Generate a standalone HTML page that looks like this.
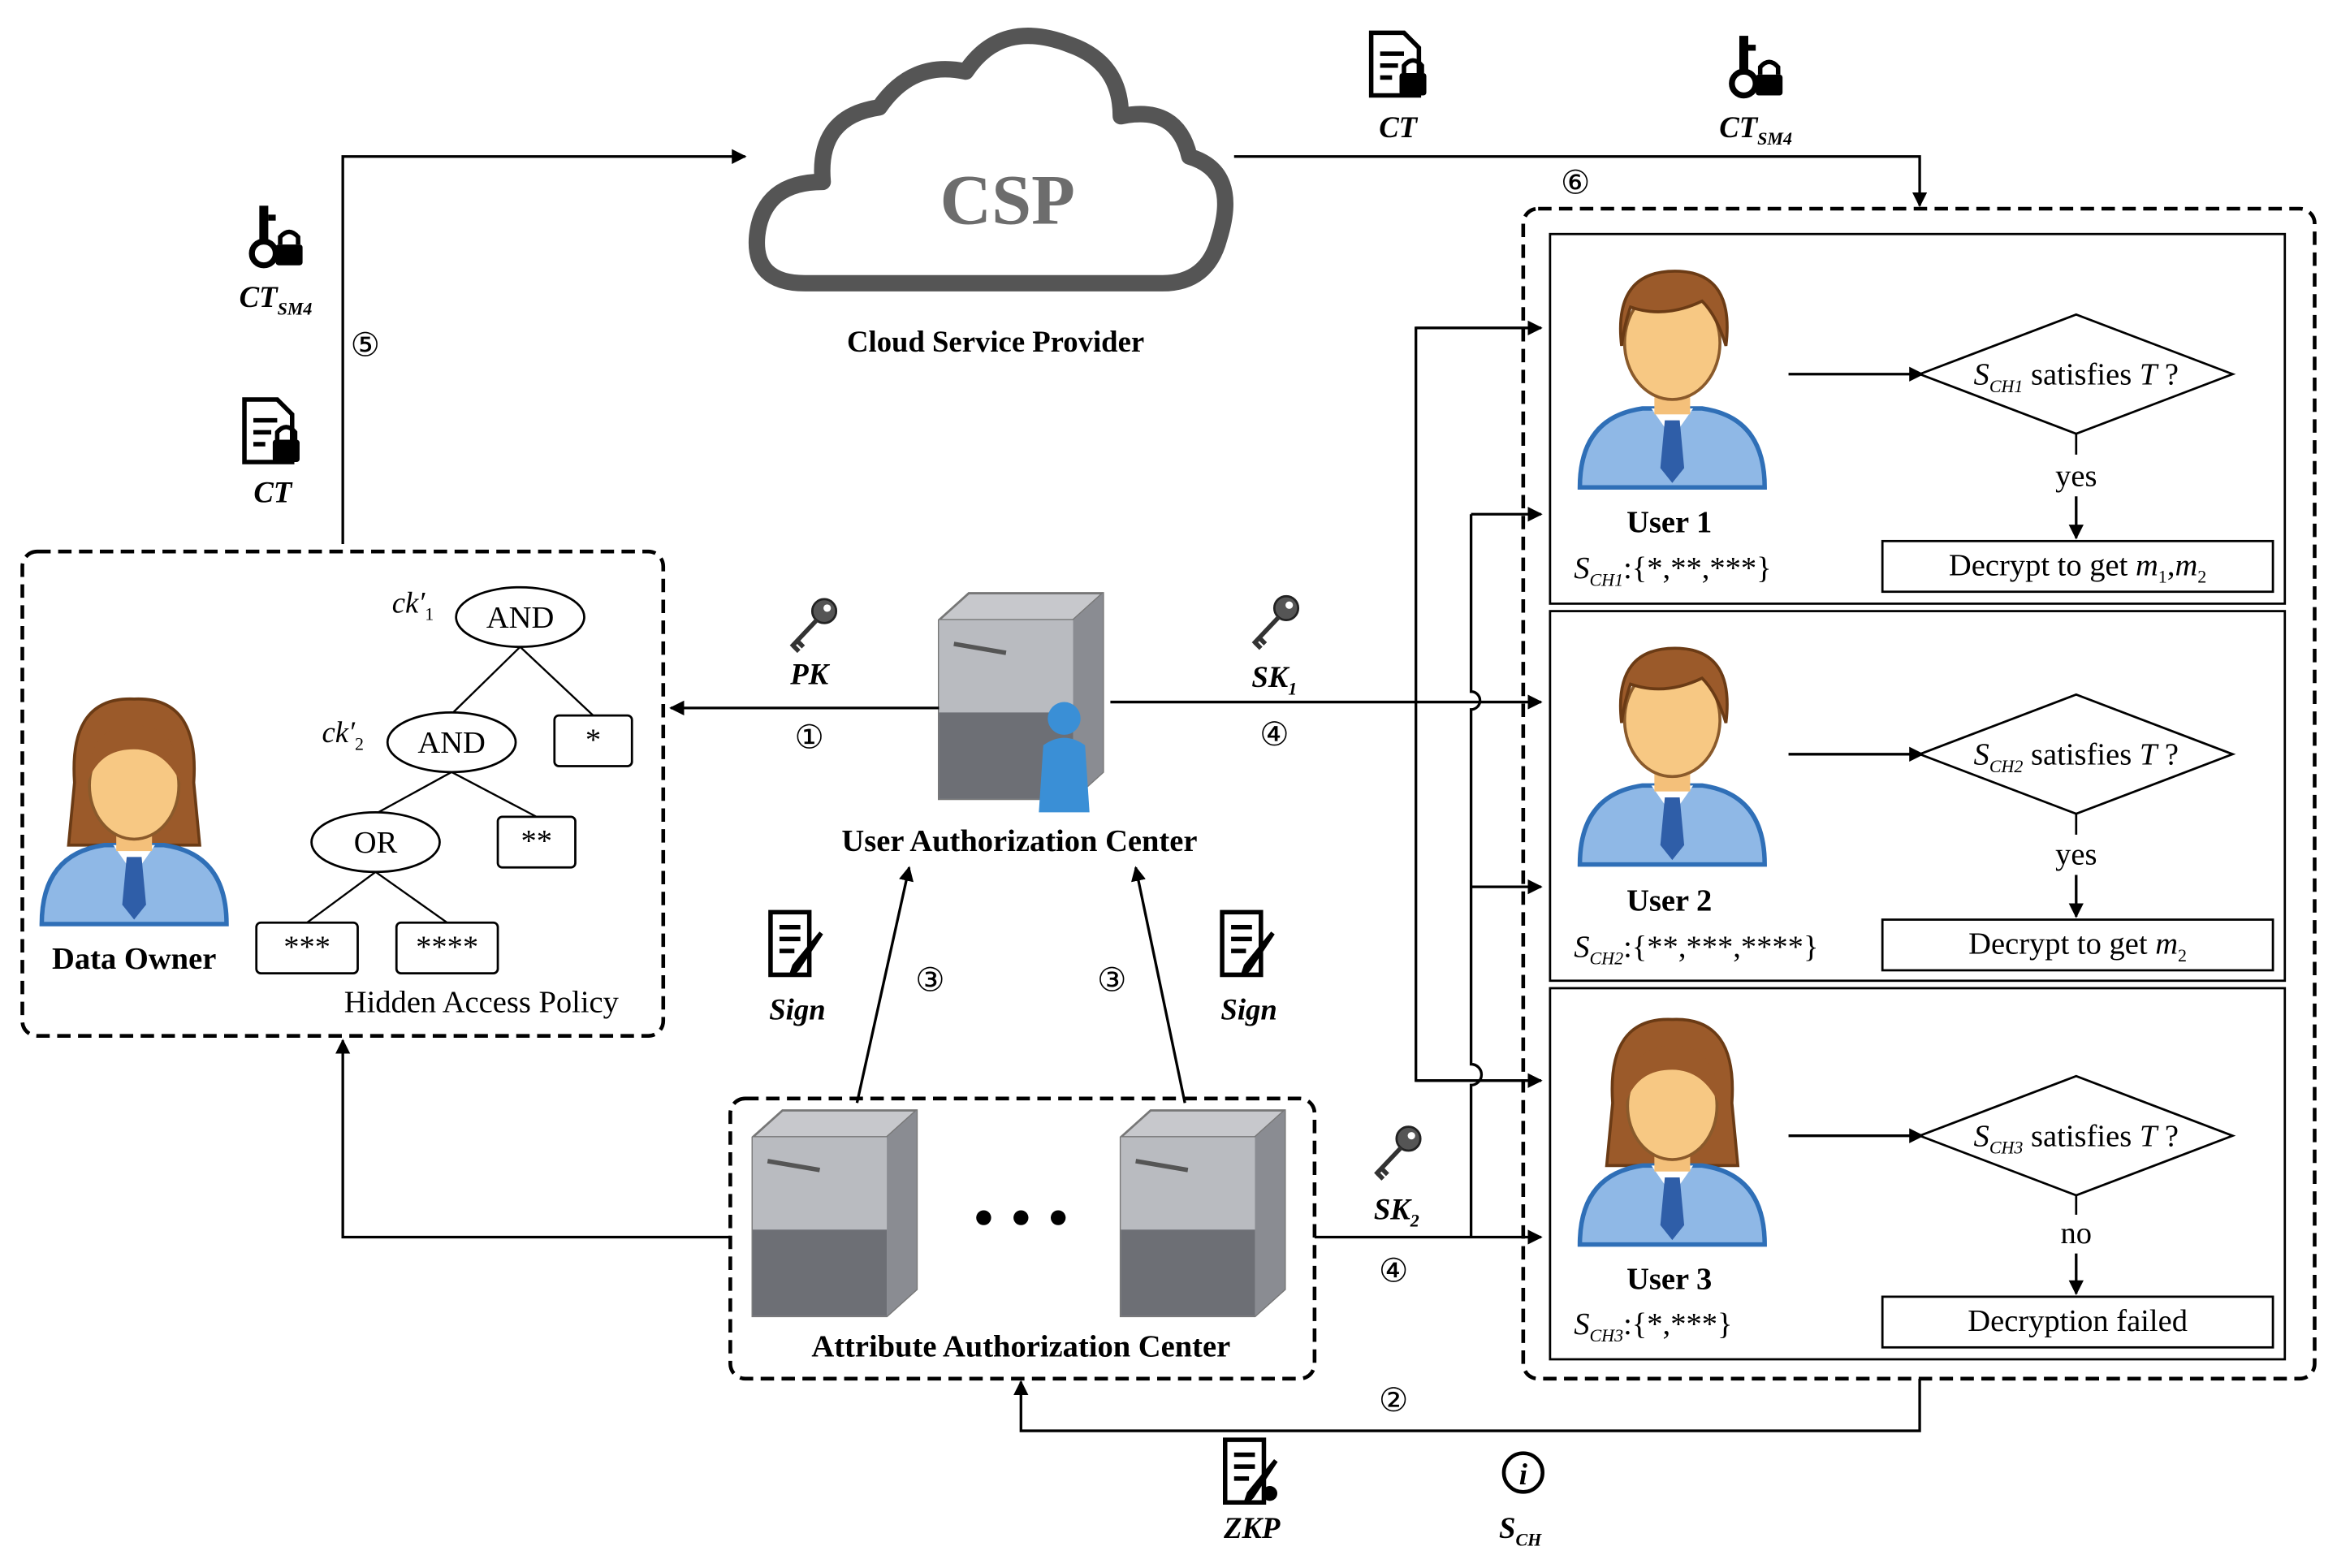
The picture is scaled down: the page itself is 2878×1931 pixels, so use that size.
<!DOCTYPE html>
<html><head><meta charset="utf-8"><style>
html,body{margin:0;padding:0;background:#fff;}
svg{display:block;}
text{font-family:"Liberation Serif",serif;}
</style></head><body>
<svg width="2878" height="1931" viewBox="0 0 1568 1052" xmlns="http://www.w3.org/2000/svg">
<defs>
<marker id="ar" markerWidth="10" markerHeight="10" refX="9" refY="5" orient="auto" markerUnits="userSpaceOnUse">
<path d="M0,0 L10,5 L0,10 Z" fill="#000"/></marker>
<g id="man">
<path d="M-62,75 Q-62,28 -20,22 L20,22 Q62,28 62,75 Z" fill="#8fb8e6" stroke="#2f6fb7" stroke-width="3"/>
<path d="M-14,22 L0,42 L14,22 Z" fill="#fff"/>
<path d="M-5,30 L5,30 L8,62 L0,72 L-8,62 Z" fill="#2f5ea8"/>
<rect x="-12" y="6" width="24" height="20" fill="#f4c07a"/>
<ellipse cx="0" cy="-22" rx="32" ry="38" fill="#f7c883" stroke="#8a5a2b" stroke-width="2"/>
<path d="M-34,-20 Q-40,-72 5,-70 Q42,-68 36,-20 Q30,-40 20,-50 Q-5,-38 -28,-46 Q-32,-35 -34,-20 Z" fill="#9b5a2a" stroke="#6b3b15" stroke-width="2"/>
</g>
<g id="woman">
<path d="M-40,-20 Q-44,-78 0,-76 Q44,-78 40,-20 L44,22 L-44,22 Z" fill="#9b5a2a" stroke="#6b3b15" stroke-width="2"/>
<path d="M-62,75 Q-62,28 -20,22 L20,22 Q62,28 62,75 Z" fill="#8fb8e6" stroke="#2f6fb7" stroke-width="3"/>
<path d="M-14,22 L0,42 L14,22 Z" fill="#fff"/>
<path d="M-5,30 L5,30 L8,62 L0,72 L-8,62 Z" fill="#2f5ea8"/>
<rect x="-12" y="6" width="24" height="20" fill="#f4c07a"/>
<ellipse cx="0" cy="-18" rx="30" ry="36" fill="#f7c883" stroke="#8a5a2b" stroke-width="2"/>
<path d="M-32,-18 Q-30,-60 0,-58 Q30,-60 32,-18 Q20,-45 -5,-42 Q-25,-40 -32,-18 Z" fill="#9b5a2a"/>
</g>
<g id="server">
<path d="M0,18 L20,0 L110,0 L110,120 L90,138 L0,138 Z" fill="#c7c8cc" stroke="#777" stroke-width="1.5"/>
<path d="M0,18 L90,18 L110,0" fill="none" stroke="#777" stroke-width="1.5"/>
<rect x="0" y="18" width="90" height="120" fill="#b9bbc0"/>
<path d="M90,18 L110,0 L110,120 L90,138 Z" fill="#8a8c92"/>
<rect x="0" y="80" width="90" height="58" fill="#6d6f75"/>
<line x1="10" y1="34" x2="45" y2="40" stroke="#555" stroke-width="3"/>
</g>
<g id="doclock">
<path d="M-16,-22 L6,-22 L16,-12 L16,20 L-16,20 Z" fill="#fff" stroke="#000" stroke-width="3"/>
<line x1="-10" y1="-8" x2="6" y2="-8" stroke="#000" stroke-width="3"/>
<line x1="-10" y1="0" x2="2" y2="0" stroke="#000" stroke-width="3"/>
<line x1="-10" y1="8" x2="-2" y2="8" stroke="#000" stroke-width="3"/>
<rect x="3" y="5" width="18" height="15" rx="2" fill="#000"/>
<path d="M6,5 L6,0 Q12,-7 18,0 L18,5" fill="none" stroke="#000" stroke-width="3"/>
</g>
<g id="keylock">
<circle cx="-8" cy="12" r="8" fill="none" stroke="#000" stroke-width="4"/>
<rect x="-11" y="-20" width="6" height="26" fill="#000"/>
<rect x="-5" y="-14" width="5" height="4" fill="#000"/>
<rect x="0" y="6" width="18" height="14" rx="2" fill="#000"/>
<path d="M3,6 L3,1 Q9,-6 15,1 L15,6" fill="none" stroke="#000" stroke-width="3"/>
</g>
<g id="key">
<circle cx="8" cy="-10" r="8" fill="#555" stroke="#222" stroke-width="1.5"/>
<circle cx="10" cy="-12" r="2.5" fill="#fff"/>
<path d="M3,-4 L-14,14 M-10,10 L-6,14 M-13,13 L-9,17" stroke="#333" stroke-width="3" fill="none"/>
</g>
<g id="sign">
<path d="M-16,-22 L10,-22 L10,20 L-16,20 Z" fill="#fff" stroke="#000" stroke-width="3"/>
<line x1="-10" y1="-12" x2="4" y2="-12" stroke="#000" stroke-width="3"/>
<line x1="-10" y1="-4" x2="4" y2="-4" stroke="#000" stroke-width="3"/>
<line x1="-10" y1="4" x2="0" y2="4" stroke="#000" stroke-width="3"/>
<path d="M18,-8 L2,16 L-2,20 L0,14 Z" fill="#000" stroke="#000" stroke-width="3"/>
</g>
</defs>

<!-- Cloud -->
<path d="M540,190 Q505,190 508,158 Q512,122 552,122 Q548,78 590,72 Q612,40 648,48 Q672,12 718,30 Q752,42 752,78 Q790,70 798,105 Q832,115 818,160 Q810,190 780,190 Z" fill="#fff" stroke="#555" stroke-width="11" stroke-linejoin="round"/>
<text x="676" y="150" font-size="48" font-weight="bold" fill="#6d6d6d" text-anchor="middle">CSP</text>
<text x="668" y="236" font-size="20" font-weight="bold" text-anchor="middle">Cloud Service Provider</text>

<!-- lines to CSP -->
<polyline points="230,365 230,105 500,105" fill="none" stroke="#000" stroke-width="1.8" marker-end="url(#ar)"/>
<use href="#keylock" x="185" y="158"/>
<text x="185" y="206" font-size="20" font-weight="bold" font-style="italic" text-anchor="middle">CT<tspan font-size="12" dy="5">SM4</tspan></text>
<text x="245" y="239" font-size="22" text-anchor="middle">⑤</text>
<use href="#doclock" x="180" y="290"/>
<text x="183" y="337" font-size="20" font-weight="bold" font-style="italic" text-anchor="middle">CT</text>

<polyline points="828,105 1288,105 1288,138" fill="none" stroke="#000" stroke-width="1.8" marker-end="url(#ar)"/>
<use href="#doclock" x="936" y="44"/>
<text x="938" y="92" font-size="20" font-weight="bold" font-style="italic" text-anchor="middle">CT</text>
<use href="#keylock" x="1178" y="44"/>
<text x="1178" y="92" font-size="20" font-weight="bold" font-style="italic" text-anchor="middle">CT<tspan font-size="12" dy="5">SM4</tspan></text>
<text x="1057" y="130" font-size="22" text-anchor="middle">⑥</text>

<!-- Users dashed box -->
<rect x="1022" y="140" width="531" height="785" rx="10" fill="none" stroke="#000" stroke-width="2.5" stroke-dasharray="9,5"/>
<rect x="1040" y="157" width="493" height="248" fill="none" stroke="#000" stroke-width="1.5"/>
<rect x="1040" y="410" width="493" height="248" fill="none" stroke="#000" stroke-width="1.5"/>
<rect x="1040" y="663" width="493" height="249" fill="none" stroke="#000" stroke-width="1.5"/>

<!-- User 1 -->
<use href="#man" x="1122" y="252"/>
<text x="1120" y="357" font-size="21" font-weight="bold" text-anchor="middle">User 1</text>
<text x="1056" y="388" font-size="21" font-style="italic">S<tspan font-size="12" dy="5">CH1</tspan><tspan dy="-5" font-style="normal">:{*,**,***}</tspan></text>
<line x1="1200" y1="251" x2="1290" y2="251" stroke="#000" stroke-width="1.8" marker-end="url(#ar)"/>
<polygon points="1288,251 1393,211 1498,251 1393,291" fill="#fff" stroke="#000" stroke-width="1.5"/>
<text x="1393" y="258" font-size="21" text-anchor="middle"><tspan font-style="italic">S</tspan><tspan font-size="12" dy="5" font-style="italic">CH1</tspan><tspan dy="-5"> satisfies </tspan><tspan font-style="italic">T</tspan> ?</text>
<line x1="1393" y1="291" x2="1393" y2="305" stroke="#000" stroke-width="1.5"/>
<text x="1393" y="326" font-size="21" text-anchor="middle">yes</text>
<line x1="1393" y1="333" x2="1393" y2="361" stroke="#000" stroke-width="1.8" marker-end="url(#ar)"/>
<rect x="1263" y="363" width="262" height="34" fill="#fff" stroke="#000" stroke-width="1.5"/>
<text x="1394" y="386" font-size="21" text-anchor="middle">Decrypt to get <tspan font-style="italic">m</tspan><tspan font-size="12" dy="5">1</tspan><tspan dy="-5">,</tspan><tspan font-style="italic">m</tspan><tspan font-size="12" dy="5">2</tspan></text>

<!-- User 2 -->
<use href="#man" x="1122" y="505"/>
<text x="1120" y="611" font-size="21" font-weight="bold" text-anchor="middle">User 2</text>
<text x="1056" y="642" font-size="21" font-style="italic">S<tspan font-size="12" dy="5">CH2</tspan><tspan dy="-5" font-style="normal">:{**,***,****}</tspan></text>
<line x1="1200" y1="506" x2="1290" y2="506" stroke="#000" stroke-width="1.8" marker-end="url(#ar)"/>
<polygon points="1288,506 1393,466 1498,506 1393,546" fill="#fff" stroke="#000" stroke-width="1.5"/>
<text x="1393" y="513" font-size="21" text-anchor="middle"><tspan font-style="italic">S</tspan><tspan font-size="12" dy="5" font-style="italic">CH2</tspan><tspan dy="-5"> satisfies </tspan><tspan font-style="italic">T</tspan> ?</text>
<line x1="1393" y1="546" x2="1393" y2="560" stroke="#000" stroke-width="1.5"/>
<text x="1393" y="580" font-size="21" text-anchor="middle">yes</text>
<line x1="1393" y1="587" x2="1393" y2="615" stroke="#000" stroke-width="1.8" marker-end="url(#ar)"/>
<rect x="1263" y="617" width="262" height="34" fill="#fff" stroke="#000" stroke-width="1.5"/>
<text x="1394" y="640" font-size="21" text-anchor="middle">Decrypt to get <tspan font-style="italic">m</tspan><tspan font-size="12" dy="5">2</tspan></text>

<!-- User 3 -->
<use href="#woman" x="1122" y="760"/>
<text x="1120" y="865" font-size="21" font-weight="bold" text-anchor="middle">User 3</text>
<text x="1056" y="895" font-size="21" font-style="italic">S<tspan font-size="12" dy="5">CH3</tspan><tspan dy="-5" font-style="normal">:{*,***}</tspan></text>
<line x1="1200" y1="762" x2="1290" y2="762" stroke="#000" stroke-width="1.8" marker-end="url(#ar)"/>
<polygon points="1288,762 1393,722 1498,762 1393,802" fill="#fff" stroke="#000" stroke-width="1.5"/>
<text x="1393" y="769" font-size="21" text-anchor="middle"><tspan font-style="italic">S</tspan><tspan font-size="12" dy="5" font-style="italic">CH3</tspan><tspan dy="-5"> satisfies </tspan><tspan font-style="italic">T</tspan> ?</text>
<line x1="1393" y1="802" x2="1393" y2="815" stroke="#000" stroke-width="1.5"/>
<text x="1393" y="834" font-size="21" text-anchor="middle">no</text>
<line x1="1393" y1="841" x2="1393" y2="868" stroke="#000" stroke-width="1.8" marker-end="url(#ar)"/>
<rect x="1263" y="870" width="262" height="34" fill="#fff" stroke="#000" stroke-width="1.5"/>
<text x="1394" y="893" font-size="21" text-anchor="middle">Decryption failed</text>

<!-- Data owner box -->
<rect x="15" y="370" width="430" height="325" rx="10" fill="none" stroke="#000" stroke-width="2.5" stroke-dasharray="9,5"/>
<use href="#woman" x="90" y="545"/>
<text x="90" y="650" font-size="21" font-weight="bold" text-anchor="middle">Data Owner</text>
<text x="323" y="679" font-size="21" text-anchor="middle">Hidden Access Policy</text>
<g stroke="#000" stroke-width="1.3" fill="none">
<line x1="349" y1="434" x2="303" y2="479"/><line x1="349" y1="434" x2="398" y2="480"/>
<line x1="303" y1="518" x2="252" y2="546"/><line x1="303" y1="518" x2="360" y2="548"/>
<line x1="252" y1="585" x2="206" y2="619"/><line x1="252" y1="585" x2="300" y2="619"/>
</g>
<g fill="#fff" stroke="#000" stroke-width="1.5">
<ellipse cx="349" cy="414" rx="43" ry="20"/>
<ellipse cx="303" cy="498" rx="43" ry="20"/>
<ellipse cx="252" cy="565" rx="43" ry="20"/>
<rect x="372" y="480" width="52" height="34" rx="3"/>
<rect x="334" y="548" width="52" height="34" rx="3"/>
<rect x="172" y="619" width="68" height="34" rx="3"/>
<rect x="266" y="619" width="68" height="34" rx="3"/>
</g>
<g font-size="21" text-anchor="middle">
<text x="349" y="421">AND</text><text x="303" y="505">AND</text><text x="252" y="572">OR</text>
<text x="398" y="503">*</text><text x="360" y="571">**</text><text x="206" y="642">***</text><text x="300" y="642">****</text>
</g>
<text x="263" y="411" font-size="20" font-style="italic">ck′<tspan font-size="12" dy="5" font-style="normal">1</tspan></text>
<text x="216" y="498" font-size="20" font-style="italic">ck′<tspan font-size="12" dy="5" font-style="normal">2</tspan></text>

<!-- UAC -->
<use href="#server" x="630" y="398"/>
<circle cx="714" cy="482" r="11" fill="#3a8fd6"/>
<path d="M697,545 L700,500 Q714,490 728,500 L731,545 Z" fill="#3a8fd6"/>
<text x="684" y="571" font-size="21" font-weight="bold" text-anchor="middle">User Authorization Center</text>

<line x1="630" y1="475" x2="450" y2="475" stroke="#000" stroke-width="1.8" marker-end="url(#ar)"/>
<use href="#key" x="545" y="420"/>
<text x="543" y="459" font-size="20" font-weight="bold" font-style="italic" text-anchor="middle">PK</text>
<text x="543" y="502" font-size="22" text-anchor="middle">①</text>

<!-- bus lines -->
<g stroke="#000" stroke-width="1.8" fill="none">
<line x1="745" y1="471" x2="1034" y2="471" marker-end="url(#ar)"/>
<polyline points="1034,220 950,220 950,725 1034,725" />
<path d="M987,345 L987,464 A6,6 0 0 1 987,476 L987,714 A6,6 0 0 1 987,728 L987,830"/>
<line x1="987" y1="345" x2="1034" y2="345" marker-end="url(#ar)"/>
<line x1="987" y1="595" x2="1034" y2="595" marker-end="url(#ar)"/>
<line x1="950" y1="220" x2="1034" y2="220" marker-end="url(#ar)"/>
<line x1="950" y1="725" x2="1034" y2="725" marker-end="url(#ar)"/>
<line x1="882" y1="830" x2="1034" y2="830" marker-end="url(#ar)"/>
</g>
<use href="#key" x="855" y="418"/>
<text x="855" y="461" font-size="20" font-weight="bold" font-style="italic" text-anchor="middle">SK<tspan font-size="12" dy="5">1</tspan></text>
<text x="855" y="500" font-size="22" text-anchor="middle">④</text>
<use href="#key" x="937" y="774"/>
<text x="937" y="818" font-size="20" font-weight="bold" font-style="italic" text-anchor="middle">SK<tspan font-size="12" dy="5">2</tspan></text>
<text x="935" y="860" font-size="22" text-anchor="middle">④</text>

<!-- AAC -->
<rect x="490" y="737" width="392" height="188" rx="10" fill="none" stroke="#000" stroke-width="2.5" stroke-dasharray="9,5"/>
<use href="#server" x="505" y="745"/>
<use href="#server" x="752" y="745"/>
<circle cx="660" cy="817" r="5" fill="#000"/><circle cx="685" cy="817" r="5" fill="#000"/><circle cx="710" cy="817" r="5" fill="#000"/>
<text x="685" y="910" font-size="21" font-weight="bold" text-anchor="middle">Attribute Authorization Center</text>

<line x1="575" y1="740" x2="610" y2="582" stroke="#000" stroke-width="1.8" marker-end="url(#ar)"/>
<line x1="795" y1="740" x2="762" y2="582" stroke="#000" stroke-width="1.8" marker-end="url(#ar)"/>
<use href="#sign" x="533" y="634"/>
<text x="535" y="684" font-size="20" font-weight="bold" font-style="italic" text-anchor="middle">Sign</text>
<use href="#sign" x="836" y="634"/>
<text x="838" y="684" font-size="20" font-weight="bold" font-style="italic" text-anchor="middle">Sign</text>
<text x="624" y="665" font-size="22" text-anchor="middle">③</text>
<text x="746" y="665" font-size="22" text-anchor="middle">③</text>

<polyline points="490,830 230,830 230,698" fill="none" stroke="#000" stroke-width="1.8" marker-end="url(#ar)"/>

<polyline points="1288,925 1288,960 685,960 685,927" fill="none" stroke="#000" stroke-width="1.8" marker-end="url(#ar)"/>
<text x="935" y="947" font-size="22" text-anchor="middle">②</text>
<use href="#sign" x="838" y="988"/>
<circle cx="852" cy="1002" r="5" fill="#000"/>
<text x="840" y="1032" font-size="20" font-weight="bold" font-style="italic" text-anchor="middle">ZKP</text>
<circle cx="1022" cy="988" r="13" fill="#fff" stroke="#000" stroke-width="2.5"/>
<text x="1022" y="996" font-size="20" font-style="italic" font-weight="bold" text-anchor="middle">i</text>
<text x="1020" y="1032" font-size="20" font-weight="bold" font-style="italic" text-anchor="middle">S<tspan font-size="12" dy="5">CH</tspan></text>
</svg>
</body></html>
